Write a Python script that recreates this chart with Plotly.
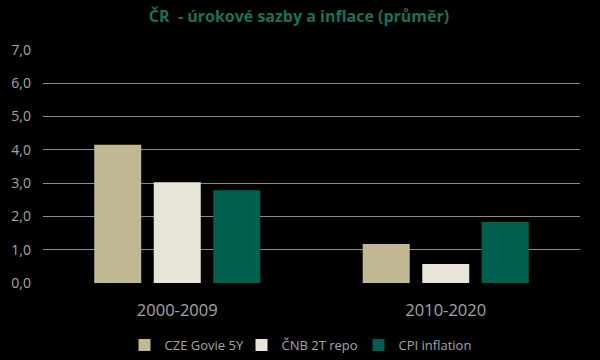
import plotly.graph_objects as go

categories = ["2000-2009", "2010-2020"]
series_names = ["CZE Govie 5Y", "ČNB 2T repo", "CPI inflation"]
govie = [4.15, 1.17]
repo = [3.03, 0.57]
cpi = [2.79, 1.83]
tick_vals = [0, 1, 2, 3, 4, 5, 6, 7]
tick_text = ["0,0", "1,0", "2,0", "3,0", "4,0", "5,0", "6,0", "7,0"]
colors = ["#c2b894", "#e8e4d8", "#00604f"]

W, H = 600, 360

fig = go.Figure()
for name, vals, col in zip(series_names, [govie, repo, cpi], colors):
    fig.add_trace(go.Bar(name=name, x=categories, y=vals, marker=dict(color=col, line=dict(width=0))))

fig.update_layout(
    width=W, height=H,
    paper_bgcolor="black", plot_bgcolor="black",
    margin=dict(l=0, r=0, t=0, b=0, autoexpand=False),
    title=dict(text="<b>ČR  - úrokové sazby a inflace (průměr)</b>", x=299 / W, xanchor="center",
               y=1 - 16 / H, yanchor="middle",
               font=dict(family="Open Sans, Lato, sans-serif", size=16, color="#1e6e5c")),
    barmode="group", bargap=0.335, bargroupgap=0.21,
    font=dict(family="Open Sans, sans-serif", color="#a6a6a6"),
    legend=dict(orientation="h", x=300 / W, xanchor="center", y=1 - 345 / H,
                yanchor="middle", itemwidth=30, entrywidth=72,
                font=dict(size=13, color="#a6a6a6"), bgcolor="rgba(0,0,0,0)"),
    showlegend=True,
)
fig.update_yaxes(domain=[1 - 283 / H, 1 - 50 / H], range=[0, 7],
                 tickvals=tick_vals, ticktext=tick_text,
                 showgrid=True, gridcolor="#8c8c8c", gridwidth=1, zeroline=False, showline=False,
                 tickfont=dict(size=14, color="#a6a6a6"), ticks="", ticklabelstandoff=11,
                 automargin=False)
fig.update_xaxes(domain=[43 / W, 580 / W], showgrid=False, showline=False,
                 tickfont=dict(size=16.5, color="#a6a6a6"),
                 ticks="", ticklabelstandoff=15, automargin=False)
fig.write_html("out.html", config={"displayModeBar": False},
               post_script="document.body.style.margin='0';document.body.style.background='black';")
